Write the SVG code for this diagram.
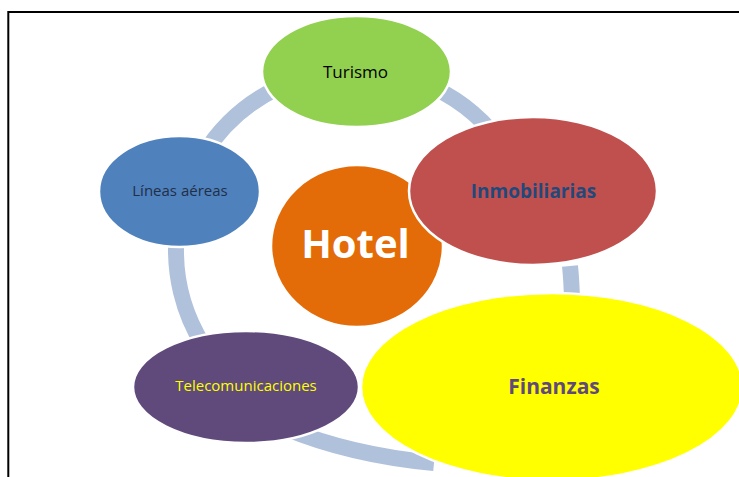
<svg xmlns="http://www.w3.org/2000/svg" width="739" height="477" viewBox="0 0 739 477">
<style>
.node{stroke:#ffffff;stroke-width:2.5}
.arc{fill:none;stroke:#b0c1dc;stroke-width:16;stroke-linecap:butt}
.t{font-family:"Open Sans","Liberation Sans",sans-serif;text-anchor:middle}
.b{font-weight:bold}
</style>
<rect x="0" y="0" width="739" height="477" fill="#ffffff"/>
<g id="frame" fill="none" stroke="#000000" stroke-width="2">
<path d="M 8.3 477 L 8.3 12 L 739 12"/>
</g>
<g id="connectors">
<path class="arc" d="M 203.4 154.6 A 180 180 0 0 1 279.9 86.9"/>
<path class="arc" d="M 423.4 83.1 A 180 180 0 0 1 497.8 139.2"/>
<path class="arc" d="M 203.4 345.4 A 180 180 0 0 1 176.7 234.3"/>
<path class="arc" d="M 570 266 Q 571.5 280 572 300"/>
<path class="arc" d="M 285 428 Q 350 455 434 463"/>
</g>
<g id="turismo">
<ellipse class="node" cx="356.5" cy="71.5" rx="94.5" ry="55.5" fill="#92d050"/>
<text class="t" x="355.5" y="78" font-size="17" fill="#000000">Turismo</text>
</g>
<g id="lineas">
<ellipse class="node" cx="179.5" cy="191.5" rx="80.5" ry="55.5" fill="#4f81bd"/>
<text class="t" x="180" y="196" font-size="15" fill="#1f2f48">Líneas aéreas</text>
</g>
<g id="hotel">
<ellipse class="node" cx="357" cy="246" rx="86" ry="81" fill="#e36c09"/>
<text class="t b" x="355.5" y="258" font-size="40" fill="#ffffff">Hotel</text>
</g>
<g id="inmobiliarias">
<ellipse class="node" cx="533" cy="191" rx="124" ry="74" fill="#c0504d"/>
<text class="t b" x="533.5" y="198" font-size="19" fill="#1f497d">Inmobiliarias</text>
</g>
<g id="telecomunicaciones">
<ellipse class="node" cx="246" cy="387" rx="113" ry="56" fill="#604a7b"/>
<text class="t" x="246" y="391" font-size="15" fill="#ffff00">Telecomunicaciones</text>
</g>
<g id="finanzas">
<ellipse class="node" cx="552" cy="387" rx="191" ry="94" fill="#ffff00"/>
<text class="t b" x="554" y="394" font-size="21" fill="#5f497a">Finanzas</text>
</g>
</svg>
